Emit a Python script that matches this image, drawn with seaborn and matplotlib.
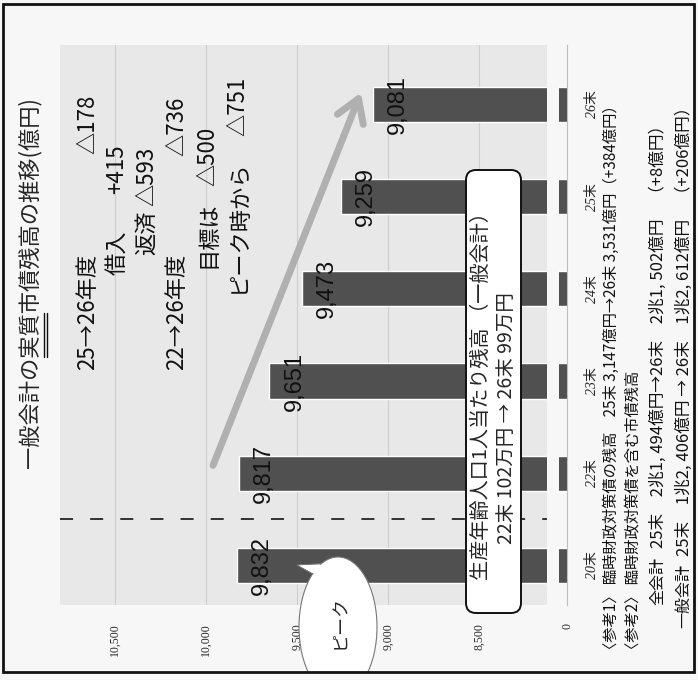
import pandas as pd
import seaborn as sns
import matplotlib.pyplot as plt
from matplotlib.patches import Ellipse, FancyBboxPatch, FancyArrowPatch, Polygon, Rectangle
from matplotlib.transforms import Affine2D
from matplotlib.lines import Line2D

# data
years = ['20末', '22末', '23末', '24末', '25末', '26末']
debt = [9832, 9817, 9651, 9473, 9259, 9081]
tick_vals = [10500, 10000, 9500, 9000, 8500]
tick_labels = ['10,500', '10,000', '9,500', '9,000', '8,500']

title = '一般会計の実質市債残高の推移(億円)'
memo_head = ['25→26年度', '借入', '返済', '22→26年度', '目標は', 'ピーク時から']
memo_val = ['△178', '+415', '△593', '△736', '△500', '△751']
box_text = ['生産年齢人口1人当たり残高 （一般会計）', '22末 102万円 → 26末 99万円']
ref_head = ['〈参考1〉 臨時財政対策債の残高', '〈参考2〉 臨時財政対策債を含む市債残高', '全会計', '一般会計']
ref_val = ['25末 3,147億円→26末 3,531億円（+384億円）', '',
           '25末　2兆1, 494億円→26末　2兆1, 502億円　（+8億円）',
           '25末　1兆2, 406億円 → 26末　1兆2, 612億円　（+206億円）']

sns.set_style('white')
plt.rcParams['font.family'] = ['Noto Sans CJK JP', 'DejaVu Sans']

W, H = 698, 680
bg = '#f7f7f7'
fig = plt.figure(figsize=(W / 100, H / 100), dpi=100, facecolor=bg)
px = Affine2D().scale(1 / W, -1 / H).translate(0, 1) + fig.transFigure

# chart is printed turned 90 degrees, so value axis runs right -> left
ax = fig.add_axes([60 / W, 1 - 605 / H, 507 / W, 560 / H])
ax.set_facecolor('#e8e8e8')
df = pd.DataFrame({'year': years, 'debt': debt})
sns.barplot(data=df, x='debt', y='year', order=years[::-1], orient='h',
            color='#505050', saturation=1, width=0.38, ax=ax, zorder=2)

zero_pos = 8016  # where the broken axis shows "0"
ax.set_xlim(10802, zero_pos)
ax.set_ylim(5.43, -0.645)
ax.set_xticks(tick_vals + [zero_pos])
ax.set_xticklabels(tick_labels + ['0'], rotation=90, family='Liberation Serif', fontsize=8.5)
ax.tick_params(axis='x', length=0, pad=13)
ax.yaxis.tick_right()
ax.tick_params(axis='y', length=0, pad=14)
for t in ax.get_yticklabels():
    t.set_rotation(90)
    t.set_va('center')
    t.set_family(['Liberation Serif', 'Noto Sans CJK JP'])
    t.set_fontsize(10)
    t.set_style('italic')
ax.set_xlabel('')
ax.set_ylabel('')
ax.grid(axis='x', color='#cdcdcd', lw=0.8)
ax.set_axisbelow(True)
for s in ['top', 'left', 'bottom']:
    ax.spines[s].set_visible(False)
ax.spines['right'].set_color('#bdbdbd')
ax.spines['right'].set_linewidth(0.8)

# white strip past the grey field and the axis break
ax.axvspan(8093, zero_pos, color=bg, zorder=0.6, lw=0)
ax.axvspan(8126, 8060, color=bg, zorder=3, lw=0)
ax.axhline(4.5, color='#333333', lw=1.4, ls=(0, (6.7, 8.8)), zorder=1.5)

for i, v in enumerate(debt[::-1]):
    ax.text(v - 137, i, f'{v:,}', rotation=90, ha='center', va='center',
            family='Liberation Sans', fontsize=17, color='#111111', zorder=4)

# title with double underline under 実質
tt = fig.text(30, 283, title, transform=px, rotation=90, ha='center', va='center', fontsize=16)

# memo lines: head from the start point, value flush to the end point
memo_x = [88, 117, 147, 177, 208, 238]
memo_start = [370, 275, 255, 370, 268, 293]
memo_end = [95, 145, 147, 97, 127, 77]
for h, v, x, y0, y1 in zip(memo_head, memo_val, memo_x, memo_start, memo_end):
    fig.text(x, y0, h, transform=px, rotation=90, rotation_mode='anchor',
             ha='left', va='center', fontsize=16, color='#111111')
    fig.text(x, y1, v, transform=px, rotation=90, rotation_mode='anchor',
             ha='right', va='center', fontsize=16, color='#111111')

# grey trend arrow
fig.patches.append(FancyArrowPatch((212, 468), (362, 90), transform=px,
                                   arrowstyle='->,head_length=8,head_width=5',
                                   lw=5, color='#b0b0b0', mutation_scale=2))

# rounded box
fig.patches.append(FancyBboxPatch((466, 170), 55, 443, transform=px,
                                  boxstyle='round,pad=0,rounding_size=10',
                                  fc='white', ec='#111111', lw=1.4, zorder=5))
fig.text(481, 391, box_text[0], transform=px, rotation=90, ha='center', va='center',
         fontsize=14.5, zorder=6)
fig.text(506, 418, box_text[1], transform=px, rotation=90, ha='center', va='center',
         fontsize=14, zorder=6)

# speech bubble
frame = Rectangle((3, 4), 691, 668, transform=px, fill=False, ec='#111111', lw=2, zorder=10)
tail = [(297, 565), (320, 578), (336, 563)]
p1 = Polygon(tail, closed=True, transform=px, fc='white', ec='#777777', lw=0.8, zorder=5)
el = Ellipse((338, 627), 78, 140, transform=px, fc='white', ec='#777777', lw=0.8, zorder=6)
p2 = Polygon([(299, 565.5), (321, 577), (334, 564.5)], closed=True, transform=px,
             fc='white', ec='none', zorder=7)
for p in (p1, el, p2):
    fig.patches.append(p)
    p.set_clip_path(frame)
fig.text(340, 622, 'ピーク', transform=px, rotation=90, ha='center', va='center',
         fontsize=13, zorder=8)

# reference notes
ref_x = [611, 633, 658, 684]
ref_start = [657, 657, 605, 628]
ref_vstart = [None, None, 548, 556]
for h, v, x, y0, y1 in zip(ref_head, ref_val, ref_x, ref_start, ref_vstart):
    if y1 is None:
        h = h + '　' + v if v else h
    fig.text(x, y0, h, transform=px, rotation=90, rotation_mode='anchor',
             ha='left', va='center', fontsize=11.5 if y1 else 11, color='#111111')
    if y1 is not None:
        fig.text(x, y1, v, transform=px, rotation=90, rotation_mode='anchor',
                 ha='left', va='center', fontsize=12, color='#111111')

fig.patches.append(frame)

fig.canvas.draw()
bb = tt.get_window_extent()
em = 16 * fig.dpi / 72
x1 = bb.x1 / fig.bbox.width
for dx in (2, 5):
    fig.add_artist(Line2D([x1 + dx / W, x1 + dx / W],
                          [(bb.y0 + 5 * em) / fig.bbox.height, (bb.y0 + 7 * em) / fig.bbox.height],
                          transform=fig.transFigure, color='#111111', lw=1))

fig.savefig('out.png', dpi=100, facecolor=bg)
